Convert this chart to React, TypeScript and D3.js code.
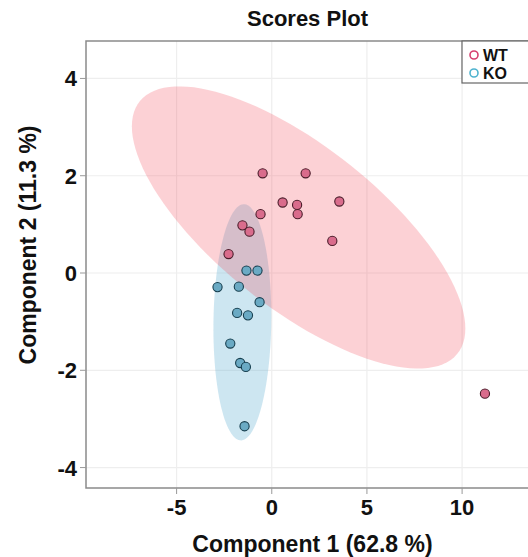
import React from 'react';
import * as d3 from 'd3';

// scores
const wtX = [-0.48, 1.78, 0.57, 1.33, 1.36, 3.55, -0.59, -1.54, -1.17, 3.18, -2.27, 11.2];
const wtY = [2.05, 2.05, 1.45, 1.40, 1.21, 1.47, 1.21, 0.98, 0.85, 0.66, 0.39, -2.48];
const koX = [-1.33, -0.75, -2.85, -1.73, -0.64, -1.82, -1.25, -2.18, -1.66, -1.36, -1.43];
const koY = [0.05, 0.05, -0.29, -0.28, -0.60, -0.82, -0.87, -1.45, -1.85, -1.93, -3.15];

const groups = ['WT', 'KO'];
const xTicks = [-5, 0, 5, 10];
const yTicks = [-4, -2, 0, 2, 4];

const W = 528;
const H = 557;
const FONT = '"Liberation Sans", Arial, sans-serif';

const colors: Record<string, any> = {
  WT: { ell: 'rgba(244,72,88,0.25)', pt: '#d96c8c', ptStroke: '#4a1c2a', leg: '#d6406f' },
  KO: { ell: 'rgba(100,178,210,0.32)', pt: '#6aaac4', ptStroke: '#173f4f', leg: '#4fb3cf' },
};

// 95% confidence ellipse from the group covariance
function ellipse(xs: number[], ys: number[], n = 120) {
  const mx = d3.mean(xs)!;
  const my = d3.mean(ys)!;
  const k = xs.length - 1;
  const sxx = d3.sum(xs, d => (d - mx) ** 2) / k;
  const syy = d3.sum(ys, d => (d - my) ** 2) / k;
  const sxy = d3.sum(xs, (d, i) => (d - mx) * (ys[i] - my)) / k;
  const tr = sxx + syy;
  const det = sxx * syy - sxy * sxy;
  const l1 = tr / 2 + Math.sqrt(tr * tr / 4 - det);
  const l2 = tr / 2 - Math.sqrt(tr * tr / 4 - det);
  const ang = Math.atan2(l1 - sxx, sxy);
  const c = Math.sqrt(5.991);
  const a = c * Math.sqrt(l1);
  const b = c * Math.sqrt(l2);
  return d3.range(n).map(i => {
    const t = (i / n) * 2 * Math.PI;
    const u = a * Math.cos(t);
    const v = b * Math.sin(t);
    return [mx + u * Math.cos(ang) - v * Math.sin(ang), my + u * Math.sin(ang) + v * Math.cos(ang)] as [number, number];
  });
}

const App: React.FC = () => {
  const left = 86, right = 535, top = 41, bottom = 488;

  const x = d3.scaleLinear().domain([-9.76, 13.83]).range([left, right]);
  const y = d3.scaleLinear().domain([-4.42, 4.77]).range([bottom, top]);

  const line = d3.line<[number, number]>()
    .x(d => x(d[0]))
    .y(d => y(d[1]))
    .curve(d3.curveLinearClosed);

  const data: Record<string, { xs: number[]; ys: number[] }> = {
    WT: { xs: wtX, ys: wtY },
    KO: { xs: koX, ys: koY },
  };

  return (
    <svg width={W} height={H} style={{ position: 'absolute', left: 0, top: 0, background: '#fff' }}
      fontFamily={FONT}>
      <rect x={0} y={0} width={W} height={H} fill="#fff" />

      {/* grid */}
      {xTicks.map(t => (
        <line key={'gx' + t} x1={x(t)} x2={x(t)} y1={top} y2={bottom} stroke="#eeeeee" strokeWidth={1.2} />
      ))}
      {yTicks.map(t => (
        <line key={'gy' + t} x1={left} x2={right} y1={y(t)} y2={y(t)} stroke="#eeeeee" strokeWidth={1.2} />
      ))}

      {/* ellipses, KO under WT */}
      {['KO', 'WT'].map(g => (
        <path key={'e' + g} d={line(ellipse(data[g].xs, data[g].ys)) || ''} fill={colors[g].ell} />
      ))}

      {/* points */}
      {groups.map(g =>
        data[g].xs.map((v, i) => (
          <circle key={g + i} cx={x(v)} cy={y(data[g].ys[i])} r={4.6}
            fill={colors[g].pt} stroke={colors[g].ptStroke} strokeWidth={1.1} />
        ))
      )}

      {/* frame */}
      <rect x={left} y={top} width={right - left} height={bottom - top} fill="none" stroke="#8a8a8a" strokeWidth={1.5} />

      {/* x axis */}
      {xTicks.map(t => (
        <g key={'xt' + t}>
          <line x1={x(t)} x2={x(t)} y1={bottom} y2={bottom + 6} stroke="#999" />
          <text x={x(t)} y={bottom + 27} textAnchor="middle" fontSize={22} fontWeight="bold" fill="#111">{t}</text>
        </g>
      ))}
      {/* y axis */}
      {yTicks.map(t => (
        <g key={'yt' + t}>
          <line x1={left - 6} x2={left} y1={y(t)} y2={y(t)} stroke="#999" />
          <text x={left - 9} y={y(t) + 8} textAnchor="end" fontSize={22} fontWeight="bold" fill="#111">{t}</text>
        </g>
      ))}

      <text x={(left + right) / 2 + 2} y={552} textAnchor="middle" fontSize={23} fontWeight="bold" fill="#111">
        Component 1 (62.8 %)
      </text>
      <text transform={`translate(36,${245}) rotate(-90)`} textAnchor="middle" fontSize={23} fontWeight="bold" fill="#111">
        Component 2 (11.3 %)
      </text>
      <text x={(left + right) / 2 - 3} y={26} textAnchor="middle" fontSize={22} fontWeight="bold" fill="#111">
        Scores Plot
      </text>

      {/* legend */}
      <rect x={462} y={top} width={80} height={42} fill="#fff" stroke="#666" strokeWidth={1.2} />
      {groups.map((g, i) => (
        <g key={'lg' + g} transform={`translate(474,${top + 14 + i * 18})`}>
          <circle cx={0} cy={0} r={4} fill="none" stroke={colors[g].leg} strokeWidth={1.6} />
          <text x={9} y={6} fontSize={16} fontWeight="bold" fill="#111">{g}</text>
        </g>
      ))}
    </svg>
  );
};

export default App;
